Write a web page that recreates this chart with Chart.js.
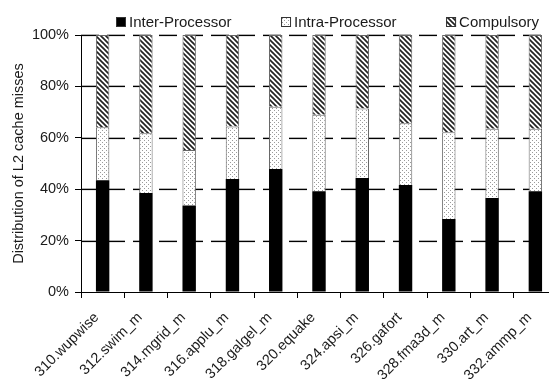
<!DOCTYPE html>
<html>
<head>
<meta charset="utf-8">
<script src="https://cdn.jsdelivr.net/npm/chart.js@4/dist/chart.umd.min.js"></script>
<style>
  html, body { margin: 0; padding: 0; background: #fff; overflow: hidden; }
  #wrap { width: 560px; height: 379px; }
</style>
</head>
<body>
<div id="wrap"><canvas id="chart" width="560" height="379"></canvas></div>
<script>
// ---- data ----
const categories = ["310.wupwise", "312.swim_m", "314.mgrid_m", "316.applu_m", "318.galgel_m",
  "320.equake", "324.apsi_m", "326.gafort", "328.fma3d_m", "330.art_m", "332.ammp_m"];
const seriesNames = ["Inter-Processor", "Intra-Processor", "Compulsory"];
const interProc  = [43.5, 38.5, 33.7, 44.0, 47.9, 39.2, 44.4, 41.6, 28.4, 36.6, 39.2];
const intraProc  = [20.6, 23.3, 21.6, 20.4, 24.2, 29.8, 27.0, 24.1, 33.8, 26.9, 24.3];
const compulsory = [35.9, 38.2, 44.7, 35.6, 27.9, 31.0, 28.6, 34.3, 37.8, 36.5, 36.5];
const yTicks = [0, 20, 40, 60, 80, 100];

const FONT = '"Liberation Sans", Arial, sans-serif';
const TEXT = "#1a1a1a";

// ---- fill patterns ----
function dotPattern() {
  const c = document.createElement("canvas");
  c.width = 4; c.height = 4;
  const g = c.getContext("2d");
  g.fillStyle = "#fff";
  g.fillRect(0, 0, 4, 4);
  g.fillStyle = "#9a9a9a";
  g.fillRect(0, 0, 1, 1);
  g.fillRect(2, 2, 1, 1);
  return g.createPattern(c, "repeat");
}

function hatchPattern() {
  const s = 5;
  const c = document.createElement("canvas");
  c.width = s; c.height = s;
  const g = c.getContext("2d");
  g.fillStyle = "#fff";
  g.fillRect(0, 0, s, s);
  g.strokeStyle = "#222";
  g.lineWidth = 1.7;
  for (let k = -1; k <= 1; k++) {
    g.beginPath();
    g.moveTo(k * s - 1, -1);
    g.lineTo(k * s + s + 1, s + 1);
    g.stroke();
  }
  return g.createPattern(c, "repeat");
}

// ---- dashed horizontal grid, behind the bars (each dash a small rect) ----
const DASH = 18, GAP = 8;
const dashedGrid = {
  id: "dashedGrid",
  beforeDatasetsDraw(chart) {
    const { ctx, chartArea } = chart;
    const y = chart.scales.y;
    ctx.save();
    ctx.fillStyle = "#000";
    yTicks.filter(v => v > 0).forEach(v => {
      const py = Math.round(y.getPixelForValue(v));
      for (let x = chartArea.left; x < chartArea.right; x += DASH + GAP) {
        ctx.fillRect(x, py - 0.3, Math.min(DASH, chartArea.right - x), 1.4);
      }
    });
    ctx.restore();
  }
};

// ---- legend drawn on top, spaced like the original ----
const topLegend = {
  id: "topLegend",
  afterDraw(chart) {
    const ctx = chart.ctx;
    ctx.save();
    ctx.font = "15px " + FONT;
    ctx.textBaseline = "middle";
    let x = 116;
    const y = 22;
    chart.data.datasets.forEach(ds => {
      ctx.fillStyle = ds.backgroundColor;
      ctx.fillRect(x, y - 5, 10, 10);
      ctx.strokeStyle = "#333";
      ctx.lineWidth = 1;
      ctx.strokeRect(x + 0.5, y - 4.5, 9, 9);
      ctx.fillStyle = TEXT;
      ctx.fillText(ds.label, x + 13, y + 0.5);
      x += 13 + ctx.measureText(ds.label).width + 49.5;
    });
    ctx.restore();
  }
};

const ctx = document.getElementById("chart").getContext("2d");
new Chart(ctx, {
  type: "bar",
  data: {
    labels: categories,
    datasets: [
      { label: seriesNames[0], data: interProc, backgroundColor: "#000", borderColor: "#000", borderWidth: 0 },
      { label: seriesNames[1], data: intraProc, backgroundColor: dotPattern(), borderColor: "#666", borderWidth: 1 },
      { label: seriesNames[2], data: compulsory, backgroundColor: hatchPattern(), borderColor: "#666", borderWidth: 1 }
    ]
  },
  options: {
    responsive: false,
    animation: false,
    devicePixelRatio: 1,
    layout: { padding: { top: 35, right: 3, left: 0, bottom: 0 } },
    datasets: { bar: { categoryPercentage: 1, barPercentage: 0.31 } },
    plugins: { legend: { display: false }, tooltip: { enabled: false } },
    scales: {
      x: {
        stacked: true,
        grid: { drawOnChartArea: false, drawTicks: true, tickLength: 6, color: "#000", lineWidth: 1 },
        border: { display: true, color: "#000", width: 1 },
        ticks: {
          autoSkip: false, minRotation: 45, maxRotation: 45, padding: 11, labelOffset: -6,
          color: TEXT, font: { family: FONT, size: 14.5 }
        },
        afterFit: s => { s.height = 87; }
      },
      y: {
        stacked: true,
        min: 0, max: 100,
        afterBuildTicks: s => { s.ticks = yTicks.map(v => ({ value: v })); },
        grid: { display: true, drawOnChartArea: false, drawTicks: true, tickLength: 6, color: "#000", tickColor: "#000", lineWidth: 1 },
        border: { display: true, color: "#000", width: 1 },
        ticks: {
          padding: 6, color: TEXT, font: { family: FONT, size: 14.5 },
          callback: v => v + "%"
        },
        title: {
          display: true, text: "Distribution of L2 cache misses",
          color: TEXT, font: { family: FONT, size: 14.5 }, padding: { top: 10, bottom: 0 }
        },
        afterFit: s => { s.width = 81; }
      }
    }
  },
  plugins: [dashedGrid, topLegend]
});
</script>
</body>
</html>
